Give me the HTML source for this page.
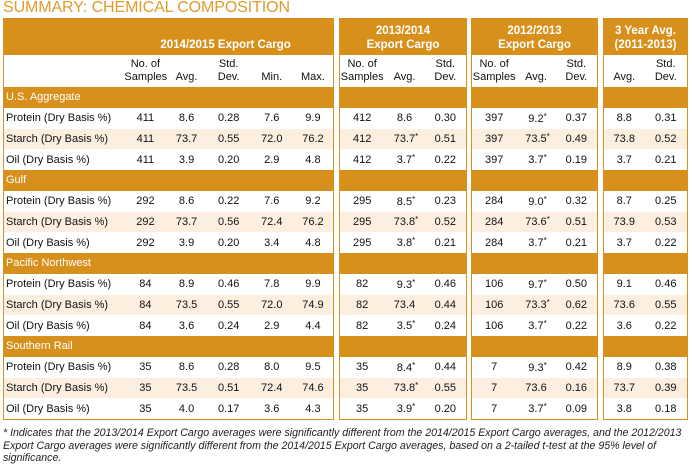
<!DOCTYPE html>
<html><head><meta charset="utf-8"><style>
*{margin:0;padding:0;box-sizing:border-box}
body{width:692px;height:467px;background:#fff;font-family:"Liberation Sans",Arial,sans-serif;position:relative;overflow:hidden;color:#111}
.title{position:absolute;left:3px;top:-1px;font-size:16px;color:#e19a2c;letter-spacing:-0.1px;white-space:nowrap}
.p{position:absolute;top:18px;height:402px;border:1.5px solid #d8901c;background:#fff}
table{border-collapse:collapse;table-layout:fixed;width:100%}
td{font-size:11px;text-align:center;padding:0;white-space:nowrap;overflow:visible}
tr.h1 td{background:#d8901c;color:#fff;font-weight:bold;font-size:11.5px;height:36px;vertical-align:bottom;padding-bottom:3px;line-height:14px}
tr.h2 td{height:32px;vertical-align:bottom;padding-bottom:3px;line-height:13px;font-size:11px}
tr.s td{background:#d8901c;color:#fff;height:20.75px;text-align:left;padding-left:2px}
tr.r td{height:20.75px}
tr.b td{background:#fcefe0}
td.l{text-align:left;padding-left:2px}
.a{font-size:8px;vertical-align:3px;margin-right:-3px}
.foot{position:absolute;left:3px;top:427px;font-size:10.6px;font-style:italic;line-height:12.5px;color:#222;width:684px}
</style></head><body>
<div class="title">SUMMARY: CHEMICAL COMPOSITION</div>

<div class="p" style="left:3px;width:331px">
<table><colgroup><col style="width:120px"><col style="width:42px"><col style="width:40px"><col style="width:44px"><col style="width:42px"><col style="width:40px"></colgroup>
<tr class="h1"><td></td><td colspan="5" style="text-align:left;padding-left:36px">2014/2015 Export Cargo</td></tr>
<tr class="h2"><td></td><td>No. of<br>Samples</td><td>Avg.</td><td>Std.<br>Dev.</td><td>Min.</td><td>Max.</td></tr>
<tr class="s"><td colspan="6">U.S. Aggregate</td></tr>
<tr class="r"><td class="l">Protein (Dry Basis %)</td><td>411</td><td>8.6</td><td>0.28</td><td>7.6</td><td>9.9</td></tr>
<tr class="r b"><td class="l">Starch (Dry Basis %)</td><td>411</td><td>73.7</td><td>0.55</td><td>72.0</td><td>76.2</td></tr>
<tr class="r"><td class="l">Oil (Dry Basis %)</td><td>411</td><td>3.9</td><td>0.20</td><td>2.9</td><td>4.8</td></tr>
<tr class="s"><td colspan="6">Gulf</td></tr>
<tr class="r"><td class="l">Protein (Dry Basis %)</td><td>292</td><td>8.6</td><td>0.22</td><td>7.6</td><td>9.2</td></tr>
<tr class="r b"><td class="l">Starch (Dry Basis %)</td><td>292</td><td>73.7</td><td>0.56</td><td>72.4</td><td>76.2</td></tr>
<tr class="r"><td class="l">Oil (Dry Basis %)</td><td>292</td><td>3.9</td><td>0.20</td><td>3.4</td><td>4.8</td></tr>
<tr class="s"><td colspan="6">Pacific Northwest</td></tr>
<tr class="r"><td class="l">Protein (Dry Basis %)</td><td>84</td><td>8.9</td><td>0.46</td><td>7.8</td><td>9.9</td></tr>
<tr class="r b"><td class="l">Starch (Dry Basis %)</td><td>84</td><td>73.5</td><td>0.55</td><td>72.0</td><td>74.9</td></tr>
<tr class="r"><td class="l">Oil (Dry Basis %)</td><td>84</td><td>3.6</td><td>0.24</td><td>2.9</td><td>4.4</td></tr>
<tr class="s"><td colspan="6">Southern Rail</td></tr>
<tr class="r"><td class="l">Protein (Dry Basis %)</td><td>35</td><td>8.6</td><td>0.28</td><td>8.0</td><td>9.5</td></tr>
<tr class="r b"><td class="l">Starch (Dry Basis %)</td><td>35</td><td>73.5</td><td>0.51</td><td>72.4</td><td>74.6</td></tr>
<tr class="r"><td class="l">Oil (Dry Basis %)</td><td>35</td><td>4.0</td><td>0.17</td><td>3.6</td><td>4.3</td></tr>
</table></div>

<div class="p" style="left:339px;width:128px">
<table><colgroup><col style="width:44px"><col style="width:40px"><col style="width:41px"></colgroup>
<tr class="h1"><td colspan="3">2013/2014<br>Export Cargo</td></tr>
<tr class="h2"><td>No. of<br>Samples</td><td>Avg.</td><td>Std.<br>Dev.</td></tr>
<tr class="s"><td colspan="3"></td></tr>
<tr class="r"><td>412</td><td>8.6</td><td>0.30</td></tr>
<tr class="r b"><td>412</td><td>73.7<span class="a">*</span></td><td>0.51</td></tr>
<tr class="r"><td>412</td><td>3.7<span class="a">*</span></td><td>0.22</td></tr>
<tr class="s"><td colspan="3"></td></tr>
<tr class="r"><td>295</td><td>8.5<span class="a">*</span></td><td>0.23</td></tr>
<tr class="r b"><td>295</td><td>73.8<span class="a">*</span></td><td>0.52</td></tr>
<tr class="r"><td>295</td><td>3.8<span class="a">*</span></td><td>0.21</td></tr>
<tr class="s"><td colspan="3"></td></tr>
<tr class="r"><td>82</td><td>9.3<span class="a">*</span></td><td>0.46</td></tr>
<tr class="r b"><td>82</td><td>73.4</td><td>0.44</td></tr>
<tr class="r"><td>82</td><td>3.5<span class="a">*</span></td><td>0.24</td></tr>
<tr class="s"><td colspan="3"></td></tr>
<tr class="r"><td>35</td><td>8.4<span class="a">*</span></td><td>0.44</td></tr>
<tr class="r b"><td>35</td><td>73.8<span class="a">*</span></td><td>0.55</td></tr>
<tr class="r"><td>35</td><td>3.9<span class="a">*</span></td><td>0.20</td></tr>
</table></div>

<div class="p" style="left:471px;width:127px">
<table><colgroup><col style="width:44px"><col style="width:39px"><col style="width:41px"></colgroup>
<tr class="h1"><td colspan="3">2012/2013<br>Export Cargo</td></tr>
<tr class="h2"><td>No. of<br>Samples</td><td>Avg.</td><td>Std.<br>Dev.</td></tr>
<tr class="s"><td colspan="3"></td></tr>
<tr class="r"><td>397</td><td>9.2<span class="a">*</span></td><td>0.37</td></tr>
<tr class="r b"><td>397</td><td>73.5<span class="a">*</span></td><td>0.49</td></tr>
<tr class="r"><td>397</td><td>3.7<span class="a">*</span></td><td>0.19</td></tr>
<tr class="s"><td colspan="3"></td></tr>
<tr class="r"><td>284</td><td>9.0<span class="a">*</span></td><td>0.32</td></tr>
<tr class="r b"><td>284</td><td>73.6<span class="a">*</span></td><td>0.51</td></tr>
<tr class="r"><td>284</td><td>3.7<span class="a">*</span></td><td>0.21</td></tr>
<tr class="s"><td colspan="3"></td></tr>
<tr class="r"><td>106</td><td>9.7<span class="a">*</span></td><td>0.50</td></tr>
<tr class="r b"><td>106</td><td>73.3<span class="a">*</span></td><td>0.62</td></tr>
<tr class="r"><td>106</td><td>3.7<span class="a">*</span></td><td>0.22</td></tr>
<tr class="s"><td colspan="3"></td></tr>
<tr class="r"><td>7</td><td>9.3<span class="a">*</span></td><td>0.42</td></tr>
<tr class="r b"><td>7</td><td>73.6</td><td>0.16</td></tr>
<tr class="r"><td>7</td><td>3.7<span class="a">*</span></td><td>0.09</td></tr>
</table></div>

<div class="p" style="left:603px;width:85px">
<table><colgroup><col style="width:40px"><col style="width:42px"></colgroup>
<tr class="h1"><td colspan="2">3 Year Avg.<br>(2011-2013)</td></tr>
<tr class="h2"><td>Avg.</td><td>Std.<br>Dev.</td></tr>
<tr class="s"><td colspan="2"></td></tr>
<tr class="r"><td>8.8</td><td>0.31</td></tr>
<tr class="r b"><td>73.8</td><td>0.52</td></tr>
<tr class="r"><td>3.7</td><td>0.21</td></tr>
<tr class="s"><td colspan="2"></td></tr>
<tr class="r"><td>8.7</td><td>0.25</td></tr>
<tr class="r b"><td>73.9</td><td>0.53</td></tr>
<tr class="r"><td>3.7</td><td>0.22</td></tr>
<tr class="s"><td colspan="2"></td></tr>
<tr class="r"><td>9.1</td><td>0.46</td></tr>
<tr class="r b"><td>73.6</td><td>0.55</td></tr>
<tr class="r"><td>3.6</td><td>0.22</td></tr>
<tr class="s"><td colspan="2"></td></tr>
<tr class="r"><td>8.9</td><td>0.38</td></tr>
<tr class="r b"><td>73.7</td><td>0.39</td></tr>
<tr class="r"><td>3.8</td><td>0.18</td></tr>
</table></div>

<div class="foot">* Indicates that the 2013/2014 Export Cargo averages were significantly different from the 2014/2015 Export Cargo averages, and the 2012/2013<br>Export Cargo averages were significantly different from the 2014/2015 Export Cargo averages, based on a 2-tailed t-test at the 95% level of<br>significance.</div>
</body></html>
